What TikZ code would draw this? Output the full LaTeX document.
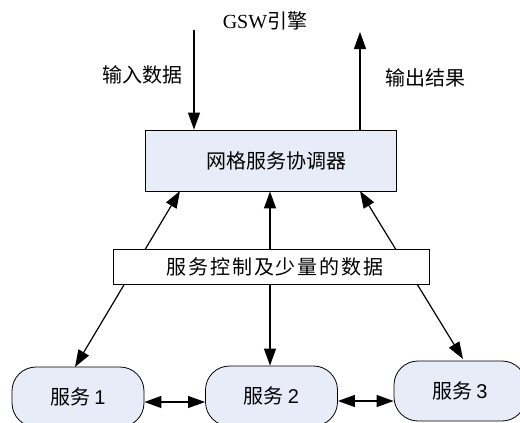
\documentclass[tikz,border=0pt]{standalone}
\usepackage{fontspec}
\setmainfont{Liberation Serif}
\newfontfamily\cjk{Noto Sans CJK SC}
\newfontfamily\cjkwide[LetterSpace=9]{Noto Sans CJK SC}
\newfontfamily\arialish{Liberation Sans}
\usetikzlibrary{arrows.meta}
\definecolor{boxfill}{RGB}{232,236,248}
\tikzset{
  tip/.tip={Triangle[length=17pt,width=12pt]},
  conn/.style={line width=1.2pt,-tip},
  dconn/.style={line width=1.2pt,tip-tip},
  mainbox/.style={draw,line width=0.8pt,fill=boxfill,minimum width=251pt,minimum height=61pt,inner sep=0pt},
  midbox/.style={draw,line width=0.8pt,fill=white,minimum width=316pt,minimum height=35pt,inner sep=0pt},
  svc/.style={draw,line width=0.8pt,fill=boxfill,rounded corners=24pt,minimum width=132pt,minimum height=60pt,inner sep=0pt},
  lbl/.style={inner sep=0pt,font=\fontsize{20}{24}\selectfont\cjk}
}
\begin{document}
\begin{tikzpicture}[x=1pt,y=-1pt]
\useasboundingbox (0,0) rectangle (520,423);
\clip (0,0) rectangle (520,423);
% nodes
\node[mainbox] (coord) at (270.5,160.5) {\hspace*{12pt}\fontsize{20}{24}\selectfont\cjk 网格服务协调器};
\node[svc] (s1) at (78,397) {\fontsize{20}{24}\selectfont\cjk 服务\hspace{4pt}\arialish 1};
\node[svc] (s2) at (271.5,396) {\fontsize{20}{24}\selectfont\cjk 服务\hspace{4pt}\arialish 2};
\node[svc] (s3) at (460,391) {\fontsize{20}{24}\selectfont\cjk 服务\hspace{4pt}\arialish 3};
\node[inner sep=0pt,font=\fontsize{20}{24}\selectfont] (gsw) at (265,21) {GSW{\cjk 引擎}};
\node[lbl] (inlbl) at (142,75) {输入数据};
\node[lbl] (outlbl) at (425,78) {输出结果};
% coordinates for connector free ends
\coordinate (inStart) at (194,30);
\coordinate (outEnd) at (360,32);
% input / output
\draw[conn] (inStart) -- (inStart |- coord.north);
\draw[conn] (outEnd |- coord.north) -- (outEnd);
% coordinator <-> services
\coordinate (c1) at (180,191);
\coordinate (c3) at (360,191);
\coordinate (t1) at (75,367);
\coordinate (t3) at (463,359);
\draw[dconn] (c1) -- (t1);
\draw[dconn] (coord.south -| 270,0) -- (s2.north -| 270,0);
\draw[dconn] (c3) -- (t3);
% middle label box on top
\node[midbox] (mid) at (271,266.5) {\hspace*{8pt}\fontsize{20}{24}\selectfont\cjkwide 服务控制及少量的数据};
% service <-> service
\draw[dconn] (s1.east |- 0,402) -- (s2.west |- 0,402);
\draw[dconn] (s2.east |- 0,401) -- (s3.west |- 0,401);
\end{tikzpicture}
\end{document}
